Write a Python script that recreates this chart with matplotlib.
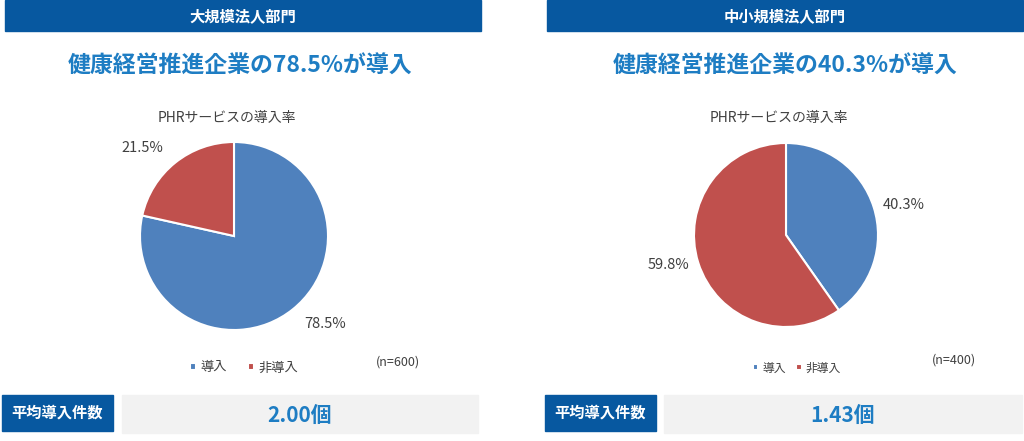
import numpy as np
import matplotlib.pyplot as plt
from matplotlib.patches import Rectangle

plt.rcParams['font.family'] = ['Noto Sans CJK JP', 'DejaVu Sans']

# データ
categorias = ['導入', '非導入']
secciones = ['大規模法人部門', '中小規模法人部門']
titulos = ['健康経営推進企業の78.5%が導入', '健康経営推進企業の40.3%が導入']
grande = [78.5, 21.5]
pequeno = [40.3, 59.8]
muestras = ['(n=600)', '(n=400)']
promedios = ['2.00個', '1.43個']
nombre_grafico = 'PHRサービスの導入率'
etiqueta_promedio = '平均導入件数'

azul_oscuro = '#0758A0'
azul_texto = '#1E7DC3'
colores = ['#4F81BD', '#C0504D']
gris = '#404040'

W, H = 1024, 441
fig = plt.figure(figsize=(W / 100, H / 100), dpi=100)
fondo = fig.add_axes([0, 0, 1, 1])
fondo.set_xlim(0, W)
fondo.set_ylim(H, 0)
fondo.axis('off')

# paneles: (x0, x1 encabezado, caja azul, caja gris, centro pie, radio, labeldistance)
paneles = [
    dict(head=(5, 481), box=(2, 113), gray=(122, 478), cx=234, cy=236, r=94,
         ld=1.2, leg=(244, 368), n=(398, 362), tx=240, px=227, fs_leg=9.5, colsp=1.6),
    dict(head=(547, 1023), box=(545, 656), gray=(664, 1022), cx=786, cy=235, r=92,
         ld=1.1, leg=(797, 368), n=(954, 360), tx=785, px=779, fs_leg=8.5, colsp=0.9),
]
valores = [grande, pequeno]

for i, p in enumerate(paneles):
    # encabezado
    fondo.add_patch(Rectangle((p['head'][0], 0), p['head'][1] - p['head'][0], 31,
                              color=azul_oscuro))
    fondo.text((p['head'][0] + p['head'][1]) / 2, 16, secciones[i], color='white',
               fontsize=11, fontweight='bold', ha='center', va='center')
    # titulo
    fondo.text(p['tx'], 66, titulos[i], color=azul_texto, fontsize=16.5,
               fontweight='bold', ha='center', va='center')
    fondo.text(p['px'], 118, nombre_grafico, color=gris, fontsize=10,
               ha='center', va='center')
    # pie
    cx, cy, r = p['cx'], p['cy'], p['r']
    s = 2.5 * r
    ax = fig.add_axes([(cx - s / 2) / W, 1 - (cy + s / 2) / H, s / W, s / H])
    etiquetas = [f'{v:.1f}%' for v in valores[i]]
    wedges, textos = ax.pie(valores[i], labels=etiquetas, colors=colores,
                            startangle=90, counterclock=False,
                            labeldistance=p['ld'],
                            wedgeprops=dict(edgecolor='white', linewidth=1.5),
                            textprops=dict(color=gris, fontsize=10.5))
    # leyenda
    fondo.legend(wedges, categorias, loc='center', ncol=2, frameon=False,
                 bbox_to_anchor=(p['leg'][0] / W, 1 - p['leg'][1] / H),
                 bbox_transform=fig.transFigure,
                 fontsize=p['fs_leg'], handlelength=0.45, handleheight=0.45,
                 handletextpad=0.35, columnspacing=p['colsp'], labelcolor=gris)
    if i == 0:
        leg0 = fondo.get_legend()
    else:
        fondo.add_artist(leg0)
    fondo.text(p['n'][0], p['n'][1], muestras[i], color=gris, fontsize=9,
               ha='center', va='center')
    # cajas inferiores
    fondo.add_patch(Rectangle((p['box'][0], 395), p['box'][1] - p['box'][0], 36,
                              color=azul_oscuro))
    fondo.text((p['box'][0] + p['box'][1]) / 2, 413, etiqueta_promedio, color='white',
               fontsize=11, fontweight='bold', ha='center', va='center')
    fondo.add_patch(Rectangle((p['gray'][0], 395), p['gray'][1] - p['gray'][0], 38,
                              color='#F2F2F2'))
    fondo.text((p['gray'][0] + p['gray'][1]) / 2, 415, promedios[i], color=azul_texto,
               fontsize=15, fontweight='bold', ha='center', va='center')

fig.savefig('out.png', dpi=100)
